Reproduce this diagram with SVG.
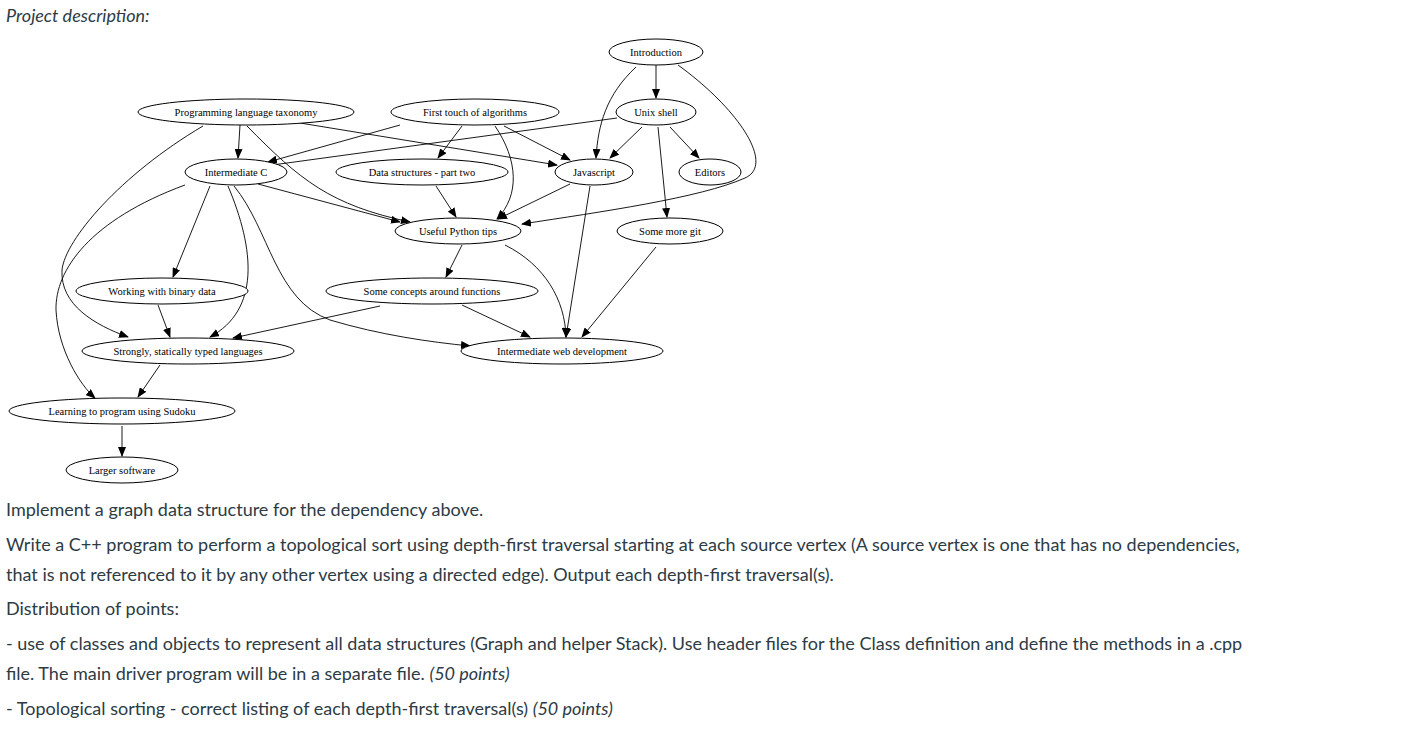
<svg xmlns="http://www.w3.org/2000/svg" width="1425" height="739" viewBox="0 0 1425 739">
<style>
.n ellipse{fill:#fff;stroke:#000;stroke-width:1}
.n text{font-family:"Liberation Serif",serif;font-size:10.5px;text-anchor:middle;fill:#000}
#edges path{fill:none;stroke:#000;stroke-width:0.9;marker-end:url(#ah)}
.t{font-family:Lato,"Open Sans",sans-serif;font-size:18px;fill:#2d3b45}
</style>
<defs><marker id="ah" markerWidth="10" markerHeight="8" refX="9" refY="4" orient="auto" markerUnits="userSpaceOnUse"><path d="M0,0 L10,4 L0,8 z" fill="#000"/></marker></defs>
<rect width="1425" height="739" fill="#fff"/>
<text class="t" x="6" y="22" font-style="italic">Project description:</text>
<g id="edges">
<path d="M656,65 L656,98"/>
<path d="M636,67 C606,95 598,125 596,158"/>
<path d="M678,65 C740,110 775,165 745,178 C700,198 600,212 522,224"/>
<path d="M240,125 L238,158"/>
<path d="M300,123 L557,165"/>
<path d="M247,126 C300,180 330,205 410,222"/>
<path d="M203,126 C120,175 65,240 62,270 C60,305 95,325 128,337"/>
<path d="M400,125 L268,162"/>
<path d="M462,126 L438,158"/>
<path d="M495,126 C518,160 520,195 497,219"/>
<path d="M504,126 L570,160"/>
<path d="M617,118 L265,166"/>
<path d="M642,127 L610,158"/>
<path d="M670,127 L699,158"/>
<path d="M658,127 L667,217"/>
<path d="M258,184 L400,222"/>
<path d="M210,186 L173,277"/>
<path d="M228,186 C255,250 260,310 210,337"/>
<path d="M234,186 C270,230 275,300 330,320 C380,335 430,342 470,346"/>
<path d="M185,185 C90,220 55,270 56,310 C58,350 80,385 95,398"/>
<path d="M436,186 L456,217"/>
<path d="M570,184 L498,219"/>
<path d="M590,186 L566,337"/>
<path d="M462,245 L446,277"/>
<path d="M505,245 C545,265 565,300 566,337"/>
<path d="M656,247 L582,337"/>
<path d="M158,305 L170,337"/>
<path d="M380,306 L233,338"/>
<path d="M462,305 L530,337"/>
<path d="M160,365 L138,397"/>
<path d="M122,426 L122,456"/>
</g>
<g id="n1" class="n"><ellipse cx="656" cy="52" rx="47" ry="13"/><text x="656" y="56">Introduction</text></g>
<g id="n2" class="n"><ellipse cx="246" cy="112" rx="108" ry="13"/><text x="246" y="116">Programming language taxonomy</text></g>
<g id="n3" class="n"><ellipse cx="475" cy="112" rx="84" ry="13"/><text x="475" y="116">First touch of algorithms</text></g>
<g id="n4" class="n"><ellipse cx="656" cy="112" rx="40" ry="13"/><text x="656" y="116">Unix shell</text></g>
<g id="n5" class="n"><ellipse cx="236" cy="172" rx="51" ry="13"/><text x="236" y="176">Intermediate C</text></g>
<g id="n6" class="n"><ellipse cx="422" cy="172" rx="86" ry="13"/><text x="422" y="176">Data structures - part two</text></g>
<g id="n7" class="n"><ellipse cx="594" cy="172" rx="39" ry="13"/><text x="594" y="176">Javascript</text></g>
<g id="n8" class="n"><ellipse cx="710" cy="172" rx="31" ry="13"/><text x="710" y="176">Editors</text></g>
<g id="n9" class="n"><ellipse cx="458" cy="231" rx="63" ry="13"/><text x="458" y="235">Useful Python tips</text></g>
<g id="n10" class="n"><ellipse cx="670" cy="231" rx="53" ry="13"/><text x="670" y="235">Some more git</text></g>
<g id="n11" class="n"><ellipse cx="162" cy="291" rx="86" ry="13"/><text x="162" y="295">Working with binary data</text></g>
<g id="n12" class="n"><ellipse cx="432" cy="291" rx="106" ry="13"/><text x="432" y="295">Some concepts around functions</text></g>
<g id="n13" class="n"><ellipse cx="188" cy="351" rx="106" ry="13"/><text x="188" y="355">Strongly, statically typed languages</text></g>
<g id="n14" class="n"><ellipse cx="562" cy="351" rx="101" ry="13"/><text x="562" y="355">Intermediate web development</text></g>
<g id="n15" class="n"><ellipse cx="122" cy="411" rx="113" ry="13"/><text x="122" y="415">Learning to program using Sudoku</text></g>
<g id="n16" class="n"><ellipse cx="122" cy="470" rx="56" ry="13"/><text x="122" y="474">Larger software</text></g>
<text class="t" x="6" y="516">Implement a graph data structure for the dependency above.</text>
<text class="t" x="6" y="551">Write a C++ program to perform a topological sort using depth-first traversal starting at each source vertex (A source vertex is one that has no dependencies,</text>
<text class="t" x="6" y="581">that is not referenced to it by any other vertex using a directed edge). Output each depth-first traversal(s).</text>
<text class="t" x="6" y="615">Distribution of points:</text>
<text class="t" x="6" y="650">- use of classes and objects to represent all data structures (Graph and helper Stack). Use header files for the Class definition and define the methods in a .cpp</text>
<text class="t" x="6" y="680">file. The main driver program will be in a separate file. <tspan font-style="italic">(50 points)</tspan></text>
<text class="t" x="6" y="715">- Topological sorting - correct listing of each depth-first traversal(s) <tspan font-style="italic">(50 points)</tspan></text>
</svg>
